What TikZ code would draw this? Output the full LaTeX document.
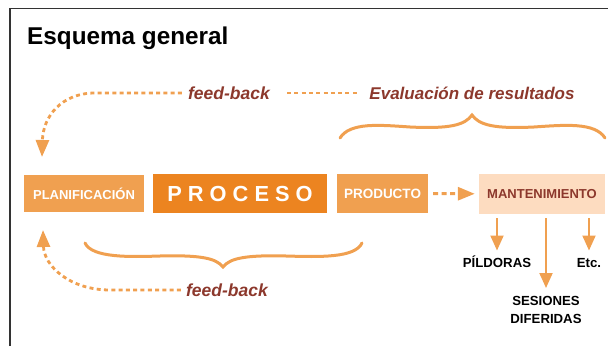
\documentclass[tikz,border=0pt]{standalone}
\usepackage{fontspec}
\setmainfont{Liberation Sans}
\usetikzlibrary{arrows.meta}

\definecolor{naranja}{HTML}{F0A050}
\definecolor{naranjaosc}{HTML}{EC8420}
\definecolor{crema}{HTML}{FDDCC0}
\definecolor{granate}{HTML}{8C382C}

\begin{document}
\begin{tikzpicture}[x=1pt,y=1pt,
 caja/.style={fill=naranja,text=white,inner sep=0pt,font=\bfseries\fontsize{13}{15}\selectfont},
 lab/.style={inner sep=0pt,text=granate,font=\bfseries\itshape\fontsize{17.5}{20}\selectfont},
 item/.style={inner sep=0pt,align=center,font=\bfseries\fontsize{13.2}{18}\selectfont},
 fb/.style={naranja,line width=2.8pt,dash pattern=on 4pt off 3.3pt,-{Triangle[length=17pt,width=13pt]}},
 sub/.style={naranja,line width=2pt,-{Triangle[length=15pt,width=13pt]}},
 llave/.style={naranja,line width=3pt,line cap=round}]
\useasboundingbox (0,0) rectangle (608,346);
% marco
\draw[black!80,line width=1.8pt] (10,0)--(10,337.5)--(608,337.5);
\node[anchor=base west,inner sep=0pt,font=\bfseries\fontsize{24.3}{28}\selectfont] (tit) at (27,301) {Esquema general};
% fila de cajas
\node[caja,minimum width=120pt,minimum height=37pt] (plan) at (84,152.5) {PLANIFICACIÓN};
\node[caja,fill=naranjaosc,minimum width=174pt,minimum height=39pt,font=\bfseries\fontsize{21.8}{24}\selectfont] (proc) at (240,152.5) {P R O C E S O};
\node[caja,minimum width=91pt,minimum height=39pt,font=\bfseries\fontsize{13.5}{15}\selectfont] (prod) at (382.5,152.5) {PRODUCTO};
\node[caja,fill=crema,text=granate,minimum width=126pt,minimum height=40pt,font=\bfseries\fontsize{13}{15}\selectfont] (mant) at (542,152) {MANTENIMIENTO};
\draw[naranja,line width=3pt,dash pattern=on 5pt off 3.5pt,-{Triangle[length=17pt,width=13pt]},shorten <=5pt,shorten >=4pt] (prod)--(mant);
% salidas de mantenimiento
\node[item,anchor=base] (pild) at (497,79) {PÍLDORAS};
\node[item,anchor=base] (etc) at (589,79) {Etc.};
\node[item,anchor=north] (ses) at (546,50) {SESIONES\\DIFERIDAS};
\draw[sub,shorten <=4pt,shorten >=7pt] (pild|-mant.south)--([yshift=9.5pt]pild.base);
\draw[sub,shorten <=4pt,shorten >=7pt] (etc|-mant.south)--([yshift=9.5pt]etc.base);
\draw[sub,shorten <=4pt,shorten >=8pt] (ses|-mant.south)--(ses.north);
% realimentacion superior
\node[lab] (fbtop) at (229,253) {feed-back};
\node[lab,font=\bfseries\itshape\fontsize{17}{20}\selectfont] (eval) at (472,253) {Evaluación de resultados};
\coordinate (tipA) at (42,189);
\draw[fb,shorten <=6pt] (fbtop.west)--(95,253) .. controls (62,253) and (43,230) .. (tipA);
\draw[fb,-,shorten <=17pt,shorten >=12pt] (fbtop.east)--(eval.west);
% realimentacion inferior
\node[lab] (fbbot) at (227,56) {feed-back};
\coordinate (tipB) at (43,116);
\draw[fb,shorten <=5pt] (fbbot.west)--(110,56) .. controls (70,56) and (44,80) .. (tipB);
% llaves
\draw[llave] (340,208) .. controls (350,224) and (380,221) .. (410,219)
 .. controls (450,217) and (465,221) .. (472,231)
 .. controls (479,221) and (494,217) .. (534,219)
 .. controls (564,221) and (595,224) .. (605,208);
\draw[llave] (85,103) .. controls (92,88) and (130,89) .. (160,90)
 .. controls (200,91) and (216,88) .. (223,79)
 .. controls (230,88) and (246,91) .. (286,90)
 .. controls (320,89) and (355,88) .. (362,103);
\end{tikzpicture}
\end{document}
